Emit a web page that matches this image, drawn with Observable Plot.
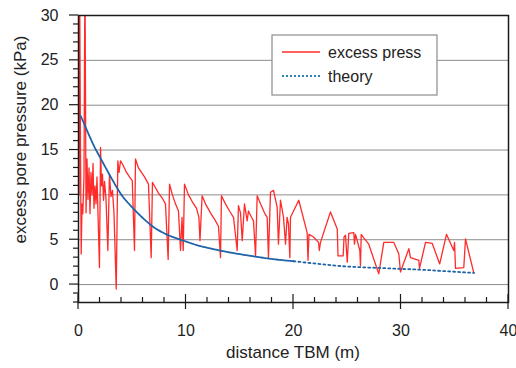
<!DOCTYPE html>
<html>
<head>
<meta charset="utf-8">
<script src="https://cdn.jsdelivr.net/npm/d3@7"></script>
<script src="https://cdn.jsdelivr.net/npm/@observablehq/plot@0.6"></script>
<style>
  html, body { margin: 0; padding: 0; background: #fff; }
  #chart svg { display: block; font-family: "Liberation Sans", Arial, sans-serif; }
</style>
</head>
<body>
<div id="chart"></div>
<script>
// ---- data ----
const excessX = [0.05,0.1,0.19,0.25,0.33,0.4,0.51,0.6,0.7,0.79,0.88,0.98,1.07,1.16,1.26,1.35,1.44,1.53,1.63,1.72,1.81,1.95,2.05,2.14,2.23,2.33,2.42,2.56,2.73,2.88,3.02,3.16,3.3,3.51,3.66,3.77,3.91,4.19,4.47,4.74,5.0,5.21,5.3,5.58,5.86,6.14,6.51,6.76,6.88,7.16,7.44,7.81,8.09,8.34,8.47,8.74,9.02,9.3,9.49,9.63,9.74,9.86,10.23,10.6,10.98,11.2,11.3,11.5,11.81,12.28,12.74,13.02,13.21,13.3,13.67,14.05,14.42,14.76,14.88,15.07,15.23,15.44,15.69,15.81,16.09,16.28,16.47,16.62,16.93,17.3,17.55,17.67,17.86,18.14,18.48,18.6,18.79,19.07,19.26,19.4,19.53,19.66,19.72,20.49,21.27,21.35,21.44,21.86,22.33,22.4,22.51,23.44,24.07,24.14,24.62,24.7,24.84,25.0,25.14,25.61,25.67,25.77,26.17,26.23,26.3,26.54,27.0,27.93,28.4,29.33,29.8,29.95,30.73,30.88,31.66,31.72,32.28,32.9,33.6,34.23,34.91,34.98,35.07,35.84,36.0,36.77];
const excessY = [10,35,14,3.4,9,7.9,12,35,8,14,9.5,13,7.9,12.5,10,13.5,8.5,11,9,12,8,1.9,15.3,11,12.3,9.4,11.5,9.5,3.8,12.3,9.8,10.5,8,-0.5,13.8,12.5,13.8,13.2,12.5,12,11.6,3.8,14.0,13,12.5,12,11.2,3.0,11.4,10.8,10.2,9.6,9.0,2.8,11.2,10,9,8.2,3.8,7.5,3.8,11.2,10,9.2,8.5,7.5,4.9,9.9,9,8,7.1,6.5,3.0,9.9,9,8.2,7.5,3.8,8.8,8,4.9,9.0,7.1,8.2,7.5,7.1,3.2,9.9,9,8,7.5,3.0,10.3,10.5,8.6,4.5,9.4,7.5,4.5,7.5,6.8,3.0,7.5,9.4,5.8,2.7,5.6,5.3,4.7,3.8,4.7,8.1,6.2,3.2,3.2,5.3,5.5,2.5,5.7,5.8,4.5,5.6,3.8,2.1,5.6,5.2,4.5,1.2,4.7,4.7,3.4,1.4,4.0,3.0,2.7,1.8,4.7,4.6,2.3,5.6,3.8,4.7,1.8,1.9,5.1,1.3];
const theoryX = [0.2,0.5,1,1.5,2,3,4,5,6,7,8,9,10,11,12,14,16,18,20,22,24,26,28,30,32,34,36.8];
const theoryY = [18.8,18,16.6,15.3,14.2,12,10,8.6,7.4,6.4,5.7,5.2,4.8,4.4,4.1,3.6,3.2,2.85,2.6,2.35,2.1,1.95,1.85,1.75,1.65,1.5,1.3];
const gridValues = [0,5,10,15,20,25];
const xTickLabels = [0,10,20,30,40];
const yTickLabels = [0,5,10,15,20,25,30];
const seriesNames = ["excess press", "theory"];
const xTitle = "distance TBM (m)";
const yTitle = "excess pore pressure (kPa)";

const RED = "#ff2b2b";
const BLUE = "#1f64a8";
const FONT = "Liberation Sans, Arial, sans-serif";

const excess = excessX.map((x, i) => ({x, y: excessY[i]}));
const theory = theoryX.map((x, i) => ({x, y: theoryY[i]}));
const theoryNear = theory.filter(d => d.x <= 20);
const theoryFar = theory.filter(d => d.x >= 20);

const chart = Plot.plot({
  width: 516,
  height: 368,
  marginLeft: 78,
  marginRight: 8,
  marginTop: 15,
  marginBottom: 66,
  style: {fontFamily: FONT, fontSize: "16px", color: "#222", background: "#fff"},
  x: {domain: [0, 40]},
  y: {domain: [-2, 30]},
  marks: [
    Plot.ruleY(gridValues, {stroke: "#8c8c8c", strokeWidth: 1}),
    Plot.line(excess, {x: "x", y: "y", stroke: RED, strokeWidth: 1.3, clip: true}),
    Plot.line(theoryNear, {x: "x", y: "y", stroke: BLUE, strokeWidth: 1.8, strokeDasharray: "3,0.8", curve: "monotone-x"}),
    Plot.line(theoryFar, {x: "x", y: "y", stroke: BLUE, strokeWidth: 1.8, strokeDasharray: "2,3", curve: "monotone-x"}),
    Plot.frame({stroke: "#1a1a1a", strokeWidth: 1.5}),
    Plot.axisX(xTickLabels, {tickSize: 0, tickPadding: 22, label: null, fontSize: 16}),
    Plot.axisY(yTickLabels, {tickSize: 0, tickPadding: 20, label: null, fontSize: 16})
  ]
});
document.getElementById("chart").appendChild(chart);

// ---- extra axis ticks, titles, legend drawn with the plot's own scales ----
const sx = chart.scale("x"), sy = chart.scale("y");
const X = v => sx.apply(v), Y = v => sy.apply(v);
const svg = d3.select(chart);
const ax = svg.append("g").attr("stroke", "#1a1a1a").attr("stroke-width", 1.2);
const yBase = Y(-2), xBase = X(0);
d3.range(0, 41, 2).forEach(v => {
  const major = v % 10 === 0;
  ax.append("line").attr("x1", X(v)).attr("x2", X(v))
    .attr("y1", yBase + (major ? 7 : 0)).attr("y2", yBase - (major ? 8 : 5));
});
d3.range(-2, 31, 1).forEach(v => {
  const major = v % 5 === 0;
  ax.append("line").attr("y1", Y(v)).attr("y2", Y(v))
    .attr("x1", xBase).attr("x2", xBase - (major ? 9 : 5));
});

svg.append("text").attr("x", (X(0) + X(40)) / 2).attr("y", 358)
  .attr("text-anchor", "middle").attr("font-family", FONT).attr("font-size", 17)
  .attr("fill", "#222").text(xTitle);
svg.append("text").attr("transform", `translate(26,${(Y(0) + Y(30)) / 2 - 10}) rotate(-90)`)
  .attr("text-anchor", "middle").attr("font-family", FONT).attr("font-size", 17)
  .attr("fill", "#222").text(yTitle);

const lg = svg.append("g");
lg.append("rect").attr("x", 272).attr("y", 35).attr("width", 165).attr("height", 60)
  .attr("fill", "#fff").attr("stroke", "#8c8c8c").attr("stroke-width", 1.2);
lg.append("line").attr("x1", 282).attr("x2", 320).attr("y1", 52).attr("y2", 52)
  .attr("stroke", RED).attr("stroke-width", 1.5);
lg.append("line").attr("x1", 282).attr("x2", 320).attr("y1", 76).attr("y2", 76)
  .attr("stroke", "#2a86b0").attr("stroke-width", 2).attr("stroke-dasharray", "2,2");
lg.append("text").attr("x", 328).attr("y", 58).attr("text-anchor", "start").attr("font-family", FONT).attr("font-size", 16)
  .attr("fill", "#222").text(seriesNames[0]);
lg.append("text").attr("x", 328).attr("y", 82).attr("text-anchor", "start").attr("font-family", FONT).attr("font-size", 16)
  .attr("fill", "#222").text(seriesNames[1]);
</script>
</body>
</html>
